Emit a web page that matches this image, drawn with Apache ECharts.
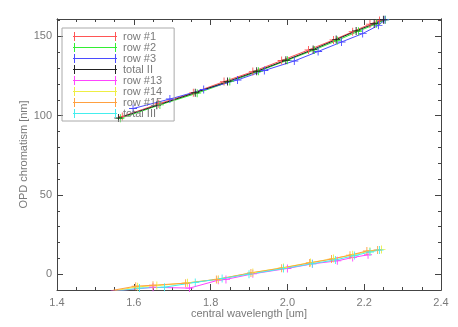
<!DOCTYPE html>
<html>
<head>
<meta charset="utf-8">
<script src="https://cdn.jsdelivr.net/npm/echarts@6/dist/echarts.min.js"></script>
<style>html,body{margin:0;padding:0;background:#fff}#c{width:458px;height:327px}</style>
</head>
<body>
<div id="c"></div>
<script>
// ---- data ----
const seriesNames = ['row #1','row #2','row #3','total II','row #13','row #14','row #15','total III'];
const seriesColors = ['#ff5555','#33ee33','#4b4bff','#222222','#ff44ff','#eeee44','#ffa040','#44eeee'];
const row1 = [[1.57,99.5],[1.665,107.5],[1.755,114.5],[1.835,121.5],[1.91,127.8],[1.985,134.8],[2.055,141.5],[2.12,147.8],[2.17,153],[2.215,157.8],[2.24,160]];
const row2 = [[1.565,98.3],[1.668,106.8],[1.765,114.2],[1.85,121.5],[1.925,128],[2.0,135],[2.07,141.5],[2.13,147.5],[2.185,153.3],[2.232,158],[2.255,160.5]];
const row3 = [[1.598,104.5],[1.694,110.5],[1.782,116.5],[1.87,122.5],[1.94,128.5],[2.018,134.5],[2.08,140.5],[2.141,146.5],[2.196,151.8],[2.237,157],[2.254,160.5]];
const total2 = [[1.56,98.5],[1.66,106.5],[1.76,114.5],[1.844,121.5],[1.92,128],[1.996,135],[2.067,141.8],[2.127,148],[2.179,153.5],[2.226,158],[2.25,160.5]];
const row13 = [[1.54,-10.5],[1.57,-10.2],[1.65,-8.3],[1.745,-8.8],[1.82,-3.8],[1.84,-3.3],[1.91,0.2],[2.0,3.6],[2.065,6.5],[2.13,8.4],[2.17,10.5],[2.21,12.2]];
const row14 = [[1.55,-10.5],[1.61,-8],[1.66,-7.2],[1.74,-5.5],[1.82,-3.2],[1.91,1],[1.99,4.2],[2.06,7.3],[2.12,9.8],[2.17,12.2],[2.215,14.5],[2.245,15.5]];
const row15 = [[1.545,-10.2],[1.605,-7.6],[1.65,-7],[1.735,-5.7],[1.815,-3.3],[1.905,0.8],[1.985,3.8],[2.058,7.1],[2.115,9.5],[2.163,12],[2.207,14.6],[2.235,15.2]];
const total3 = [[1.555,-10.8],[1.615,-8.8],[1.68,-8.2],[1.76,-5.2],[1.83,-2.8],[1.9,0],[1.99,3.5],[2.065,6.6],[2.125,9],[2.175,11.7],[2.215,14],[2.24,15.2]];
const seriesData = [row1,row2,row3,total2,row13,row14,row15,total3];
const yMajorTicks = [0,50,100,150];
const yMinorTicks = [-10,10,20,30,40,60,70,80,90,110,120,130,140,160];
const xMin = 1.4, xMax = 2.4, xStep = 0.2;
const yMin = -10, yMax = 161;

// ---- chart ----
const txt = '#7a7a7a';
const lineCol = '#444';
const crossPath = 'path://M4,0h1v4h4v1h-4v4h-1v-4h-4v-1h4z';
const legendIcon = 'path://M0,4h44v1h-44z M1,0h1v9h-1z M42,0h1v9h-1z';
const font = 'Liberation Sans, DejaVu Sans, sans-serif';

function yAx(pos, ticks, len, labels, extra) {
  return Object.assign({
    type: 'value', min: yMin, max: yMax, position: pos,
    axisLine: { show: true, onZero: false, lineStyle: { color: lineCol, width: 1 } },
    axisTick: { show: true, inside: true, length: len, customValues: ticks, lineStyle: { color: lineCol } },
    axisLabel: labels ? { show: true, customValues: yMajorTicks, color: txt, fontSize: 11, fontFamily: font, margin: 5 } : { show: false },
    splitLine: { show: false }
  }, extra || {});
}
function xAx(pos, labels, extra) {
  return Object.assign({
    type: 'value', min: xMin, max: xMax, interval: xStep, position: pos,
    axisLine: { show: true, onZero: false, lineStyle: { color: lineCol, width: 1 } },
    axisTick: { show: true, inside: true, length: 6, lineStyle: { color: lineCol } },
    minorTick: { show: true, splitNumber: 4, length: 3, lineStyle: { color: lineCol } },
    axisLabel: labels ? { show: true, color: txt, fontSize: 11, fontFamily: font, margin: 7, formatter: v => v.toFixed(1) } : { show: false },
    splitLine: { show: false }, minorSplitLine: { show: false }
  }, extra || {});
}

const chart = echarts.init(document.getElementById('c'), null, { renderer: 'canvas' });
chart.setOption({
  animation: false,
  backgroundColor: '#fff',
  grid: { left: 57, right: 17, top: 19, bottom: 37, containLabel: false },
  xAxis: [
    xAx('bottom', true, { name: 'central wavelength [um]', nameLocation: 'middle', nameGap: 18, nameMoveOverlap: false,
      nameTextStyle: { color: txt, fontSize: 11, fontFamily: font } }),
    xAx('top', false)
  ],
  yAxis: [
    yAx('left', yMajorTicks, 6, true, { name: 'OPD chromatism [nm]', nameLocation: 'middle', nameGap: 28, nameMoveOverlap: false,
      nameTextStyle: { color: txt, fontSize: 11, fontFamily: font } }),
    yAx('left', yMinorTicks, 3, false),
    yAx('right', yMajorTicks, 6, false),
    yAx('right', yMinorTicks, 3, false)
  ],
  legend: {
    orient: 'vertical', left: 62, top: 28,
    padding: [3, 12, 2, 11],
    itemWidth: 44, itemHeight: 9, itemGap: 0,
    icon: legendIcon,
    borderColor: '#aaaaaa', borderWidth: 1, backgroundColor: 'rgba(255,255,255,0)',
    textStyle: { color: txt, fontSize: 11, fontFamily: font, lineHeight: 9, padding: [0,0,0,1] },
    data: seriesNames
  },
  series: seriesNames.map((n, i) => ({
    name: n, type: 'line', data: seriesData[i], xAxisIndex: 0, yAxisIndex: 0,
    symbol: crossPath, symbolSize: 8, showSymbol: true,
    lineStyle: { color: seriesColors[i], width: 1 },
    itemStyle: { color: seriesColors[i] },
    emphasis: { disabled: true }
  }))
});
</script>
</body>
</html>
